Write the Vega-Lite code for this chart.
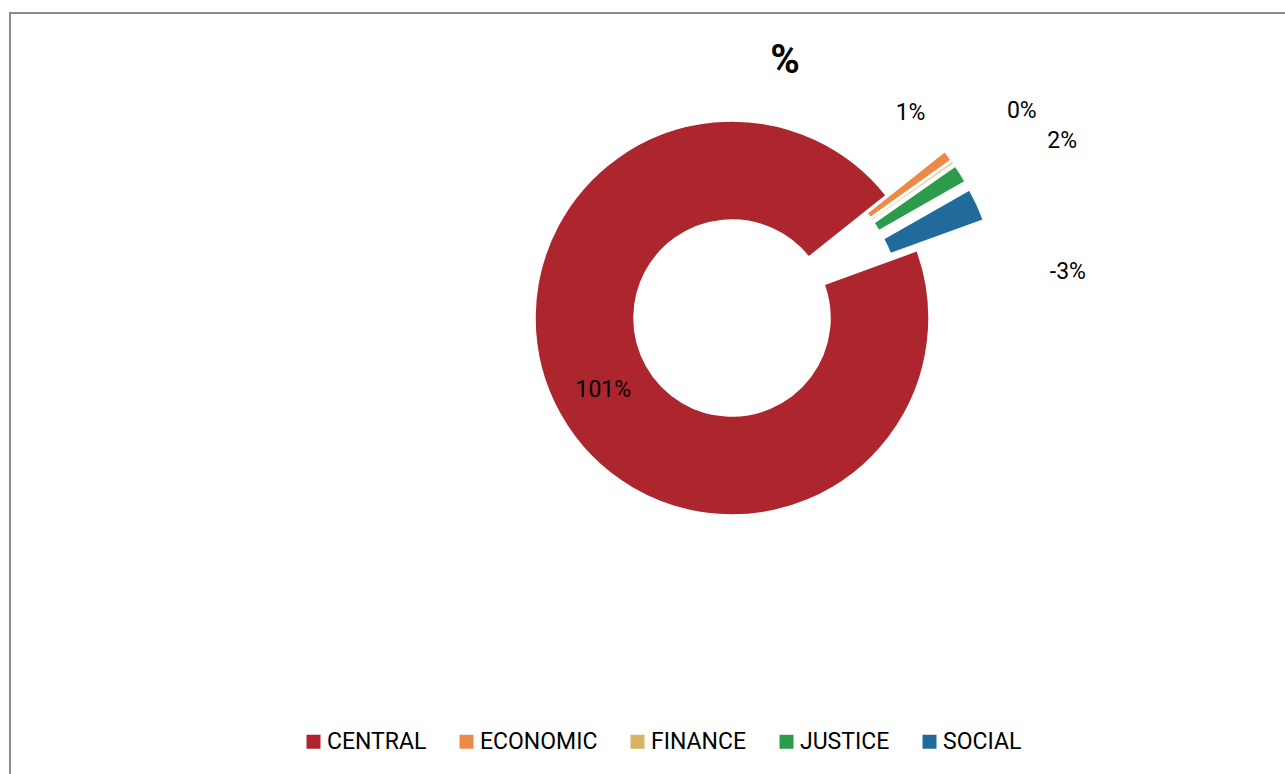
{
  "$schema": "https://vega.github.io/schema/vega-lite/v6.json",
  "autosize": "none",
  "padding": {"left": 10, "top": 13, "right": 0, "bottom": 0},
  "width": 1550,
  "height": 1000,
  "background": "white",
  "view": {"stroke": "#8a8a8a", "strokeWidth": 2, "fill": "white"},
  "config": {
    "view": {"stroke": "#8a8a8a", "strokeWidth": 2},
    "font": "Roboto",
    "legend": {
      "orient": "none",
      "legendX": 292,
      "legendY": 717,
      "direction": "horizontal",
      "title": null,
      "labelFont": "Roboto",
      "labelFontSize": 23,
      "labelColor": "#000000",
      "labelOffset": 2,
      "columnPadding": 28,
      "symbolType": "square",
      "symbolSize": 196,
      "symbolStrokeWidth": 0,
      "symbolOpacity": 1
    }
  },
  "title": {
    "text": "%",
    "anchor": "middle",
    "frame": "group",
    "font": "Roboto",
    "fontSize": 40,
    "fontWeight": "bold",
    "color": "#000000",
    "baseline": "middle",
    "offset": -46,
    "dy": 42
  },
  "data": {
    "values": [
      {"category": "CENTRAL", "value": 100.8, "size": 100.8, "label": "101%"},
      {"category": "ECONOMIC", "value": 0.9, "size": 0.9, "label": "1%"},
      {"category": "FINANCE", "value": 0.15, "size": 0.15, "label": "0%"},
      {"category": "JUSTICE", "value": 1.55, "size": 1.55, "label": "2%"},
      {"category": "SOCIAL", "value": -2.85, "size": 2.85, "label": "-3%"}
    ]
  },
  "transform": [
    {"stack": "size", "groupby": [], "as": ["s0", "s1"], "sort": [{"field": "category", "order": "ascending"}]}
  ],
  "layer": [
    {
      "transform": [{"filter": "datum.category === 'CENTRAL'"}],
      "mark": {"type": "arc", "x": 722, "y": 305, "innerRadius": 98, "outerRadius": 197, "stroke": "white", "strokeWidth": 1.5},
      "encoding": {
        "theta": {"field": "s0", "type": "quantitative", "scale": {"range": [1.22173, 7.50492], "zero": true, "nice": false}},
        "theta2": {"field": "s1"},
        "color": {"field": "category", "type": "nominal", "scale": {"domain": ["CENTRAL", "ECONOMIC", "FINANCE", "JUSTICE", "SOCIAL"], "range": ["#AD262D", "#EE8A47", "#D5B55F", "#2A9C4C", "#206B9C"]}}
      }
    },
    {
      "transform": [{"filter": "datum.category === 'ECONOMIC'"}],
      "mark": {"type": "arc", "x": 780.4, "y": 261.2, "innerRadius": 98, "outerRadius": 197, "stroke": "white", "strokeWidth": 1.2},
      "encoding": {
        "theta": {"field": "s0", "type": "quantitative"},
        "theta2": {"field": "s1"},
        "color": {"field": "category", "type": "nominal"}
      }
    },
    {
      "transform": [{"filter": "datum.category === 'FINANCE'"}],
      "mark": {"type": "arc", "x": 781.7, "y": 263.0, "innerRadius": 98, "outerRadius": 197, "stroke": "white", "strokeWidth": 0.8},
      "encoding": {
        "theta": {"field": "s0", "type": "quantitative"},
        "theta2": {"field": "s1"},
        "color": {"field": "category", "type": "nominal"}
      }
    },
    {
      "transform": [{"filter": "datum.category === 'JUSTICE'"}],
      "mark": {"type": "arc", "x": 783.7, "y": 266.0, "innerRadius": 98, "outerRadius": 197, "stroke": "white", "strokeWidth": 1.2},
      "encoding": {
        "theta": {"field": "s0", "type": "quantitative"},
        "theta2": {"field": "s1"},
        "color": {"field": "category", "type": "nominal"}
      }
    },
    {
      "transform": [{"filter": "datum.category === 'SOCIAL'"}],
      "mark": {"type": "arc", "x": 788.3, "y": 274.3, "innerRadius": 98, "outerRadius": 197, "stroke": "white", "strokeWidth": 1.5},
      "encoding": {
        "theta": {"field": "s0", "type": "quantitative"},
        "theta2": {"field": "s1"},
        "color": {"field": "category", "type": "nominal"}
      }
    },
    {
      "mark": {"type": "text", "x": 722, "y": 305, "radius": 147.5, "font": "Roboto", "fontSize": 23, "color": "#000000", "align": "center", "baseline": "middle"},
      "encoding": {
        "theta": {"field": "size", "type": "quantitative", "stack": true},
        "order": {"field": "category"},
        "detail": {"field": "category"},
        "text": {"condition": {"test": "datum.category === 'CENTRAL'", "field": "label", "type": "nominal"}, "value": ""}
      }
    },
    {
      "mark": {"type": "text", "x": 722, "y": 305, "radius": 272, "thetaOffset": -0.21, "font": "Roboto", "fontSize": 23, "color": "#000000", "align": "center", "baseline": "middle"},
      "encoding": {
        "theta": {"field": "size", "type": "quantitative", "stack": true},
        "order": {"field": "category"},
        "detail": {"field": "category"},
        "text": {"condition": {"test": "datum.category === 'ECONOMIC'", "field": "label", "type": "nominal"}, "value": ""}
      }
    },
    {
      "mark": {"type": "text", "x": 722, "y": 305, "radius": 356, "thetaOffset": -0.006, "font": "Roboto", "fontSize": 23, "color": "#000000", "align": "center", "baseline": "middle"},
      "encoding": {
        "theta": {"field": "size", "type": "quantitative", "stack": true},
        "order": {"field": "category"},
        "detail": {"field": "category"},
        "text": {"condition": {"test": "datum.category === 'FINANCE'", "field": "label", "type": "nominal"}, "value": ""}
      }
    },
    {
      "mark": {"type": "text", "x": 722, "y": 305, "radius": 374.5, "thetaOffset": 0.072, "font": "Roboto", "fontSize": 23, "color": "#000000", "align": "center", "baseline": "middle"},
      "encoding": {
        "theta": {"field": "size", "type": "quantitative", "stack": true},
        "order": {"field": "category"},
        "detail": {"field": "category"},
        "text": {"condition": {"test": "datum.category === 'JUSTICE'", "field": "label", "type": "nominal"}, "value": ""}
      }
    },
    {
      "mark": {"type": "text", "x": 722, "y": 305, "radius": 339, "thetaOffset": 0.297, "font": "Roboto", "fontSize": 23, "color": "#000000", "align": "center", "baseline": "middle"},
      "encoding": {
        "theta": {"field": "size", "type": "quantitative", "stack": true},
        "order": {"field": "category"},
        "detail": {"field": "category"},
        "text": {"condition": {"test": "datum.category === 'SOCIAL'", "field": "label", "type": "nominal"}, "value": ""}
      }
    }
  ]
}
